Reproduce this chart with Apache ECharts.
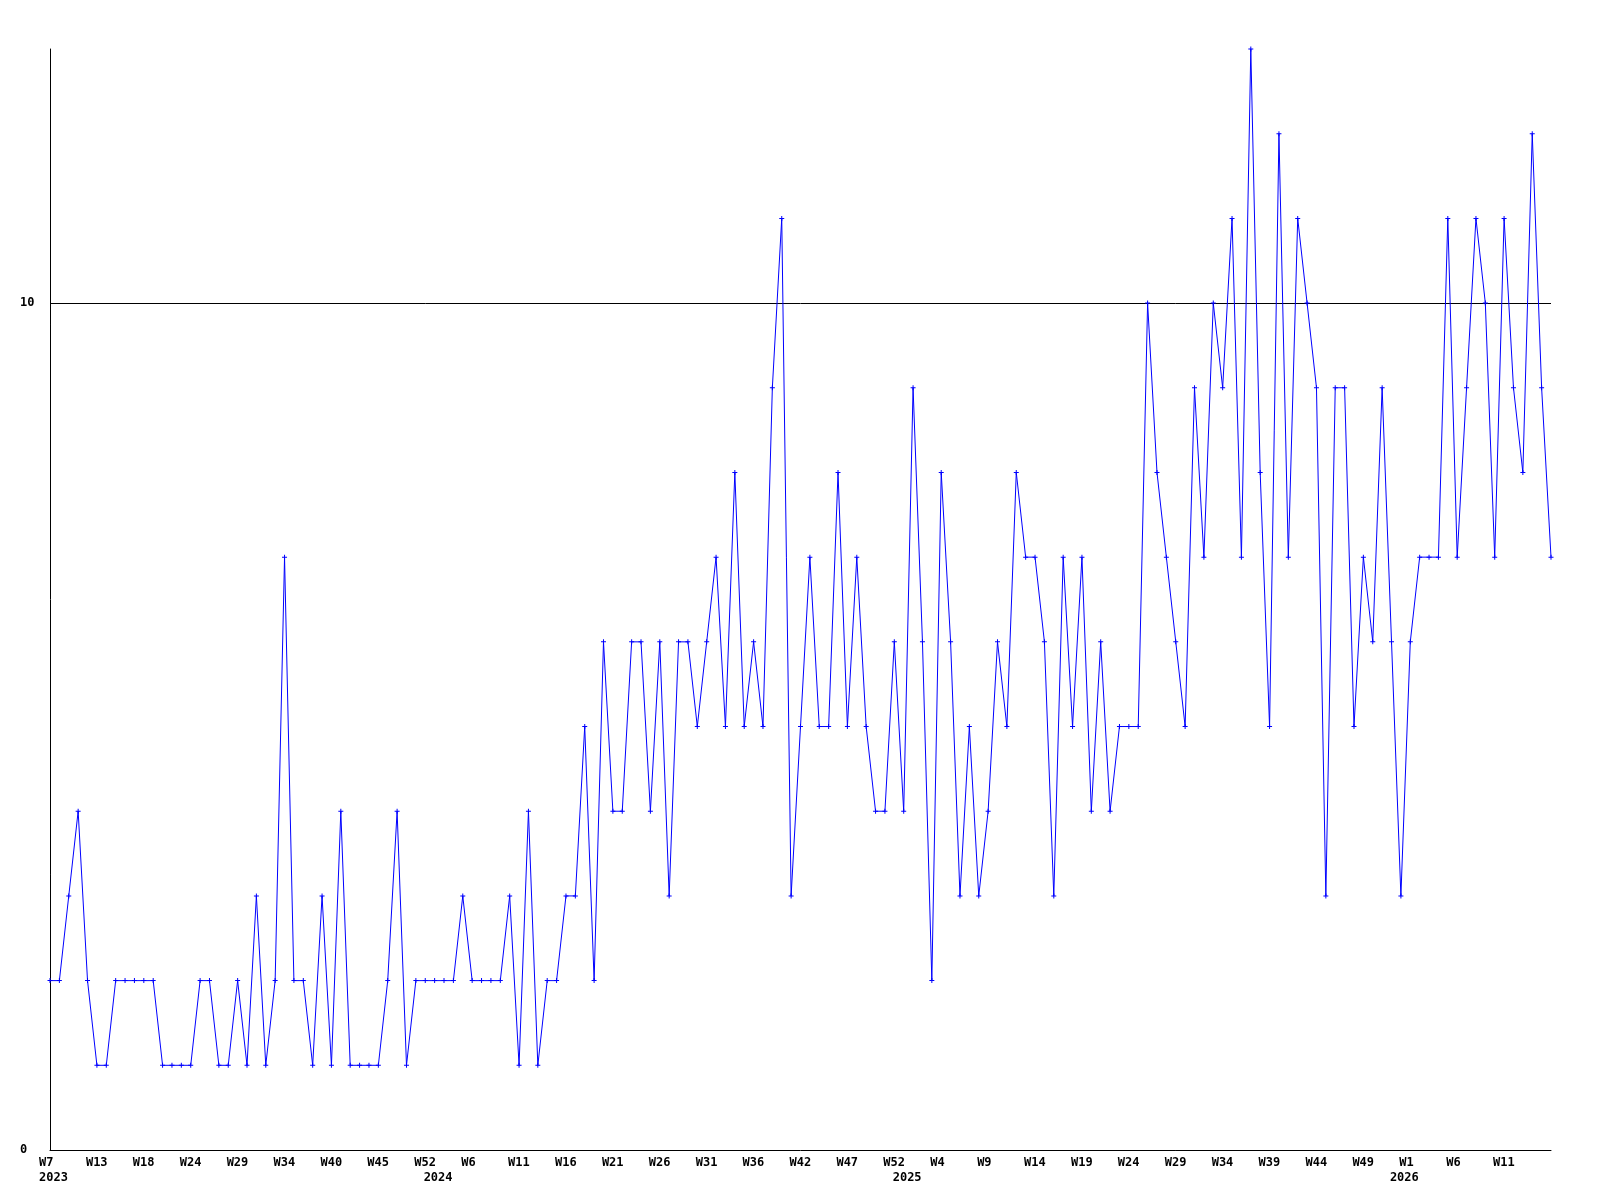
<!DOCTYPE html>
<html>
<head>
<meta charset="utf-8">
<script src="https://cdn.jsdelivr.net/npm/echarts@6/dist/echarts.min.js"></script>
<style>
html,body{margin:0;padding:0;background:#fff;}
#chart{width:1600px;height:1200px;}
</style>
</head>
<body>
<div id="chart"></div>
<script>
// Series values, one per point
const values = [
  2,2,3,4,2,1,1,2,2,2,2,2,1,1,1,1,2,2,1,1,2,1,3,1,2,7,2,
  2,1,3,1,4,1,1,1,1,2,4,1,2,2,2,2,2,3,2,2,2,2,3,1,4,1,2,
  2,3,3,5,2,6,4,4,6,6,4,6,3,6,6,5,6,7,5,8,5,6,5,9,11,3,5,
  7,5,5,8,5,7,5,4,4,6,4,9,6,2,8,6,3,5,3,4,6,5,8,7,7,6,
  3,7,5,7,4,6,4,5,5,5,10,8,7,6,5,9,7,10,9,11,7,13,8,5,12,7,11,
  10,9,3,9,9,5,7,6,9,6,3,6,7,7,7,11,7,9,11,10,7,11,9,8,12,9,7
];
// Week tick labels, one every tickStep points starting at the first point
const tickStep = 5;
const tickLabels = ['W7','W13','W18','W24','W29','W34','W40','W45','W52','W6','W11',
  'W16','W21','W26','W31','W36','W42','W47','W52','W4','W9','W14','W19','W24','W29',
  'W34','W39','W44','W49','W1','W6','W11'];
// Year labels (point index -> year)
const yearIdx = [0, 41, 91, 144];
const yearNames = ['2023', '2024', '2025', '2026'];
// Y axis
const yMin = 0, yMax = 13, yInterval = 10;

const categories = values.map((_, i) => String(i));
const font = {fontFamily: 'DejaVu Sans Mono', fontWeight: 'bold', fontSize: 12, color: '#000'};

const chart = echarts.init(document.getElementById('chart'), null, {renderer: 'canvas'});
chart.setOption({
  animation: false,
  backgroundColor: '#fff',
  grid: {left: 50, right: 49, top: 49, bottom: 50, containLabel: false},
  xAxis: [{
    type: 'category',
    data: categories,
    boundaryGap: false,
    axisLine: {show: true, lineStyle: {color: '#000', width: 1}},
    axisTick: {show: false},
    splitLine: {show: false},
    axisLabel: Object.assign({
      interval: (i) => i % tickStep === 0,
      formatter: (v, i) => tickLabels[Math.round(i / tickStep)] || '',
      margin: 7,
      align: 'left',
      padding: [0, 0, 0, -11]
    }, font)
  }, {
    type: 'category',
    data: categories,
    boundaryGap: false,
    position: 'bottom',
    offset: 15,
    axisLine: {show: false},
    axisTick: {show: false},
    splitLine: {show: false},
    axisLabel: Object.assign({
      interval: (i) => yearIdx.indexOf(i) >= 0,
      formatter: (v, i) => { const k = yearIdx.indexOf(i); return k >= 0 ? yearNames[k] : ''; },
      margin: 7,
      align: 'left',
      padding: [0, 0, 0, -11]
    }, font)
  }],
  yAxis: {
    type: 'value',
    min: yMin, max: yMax, interval: yInterval,
    axisLine: {show: true, lineStyle: {color: '#000', width: 1}},
    axisTick: {show: false},
    splitLine: {show: true, showMinLine: false, showMaxLine: false, lineStyle: {color: '#000', width: 1}},
    axisLabel: Object.assign({
      align: 'left', margin: 30, showMaxLabel: false,
      formatter: (v) => (v % yInterval === 0 ? String(v) : '')
    }, font)
  },
  series: [{
    type: 'line',
    data: values,
    xAxisIndex: 0,
    showAllSymbol: true,
    symbol: 'path://M2,0H3V2H5V3H3V5H2V3H0V2H2Z',
    symbolSize: 5,
    itemStyle: {color: '#0000ff'},
    lineStyle: {color: '#0000ff', width: 1},
    emphasis: {disabled: true}
  }]
});
</script>
</body>
</html>
